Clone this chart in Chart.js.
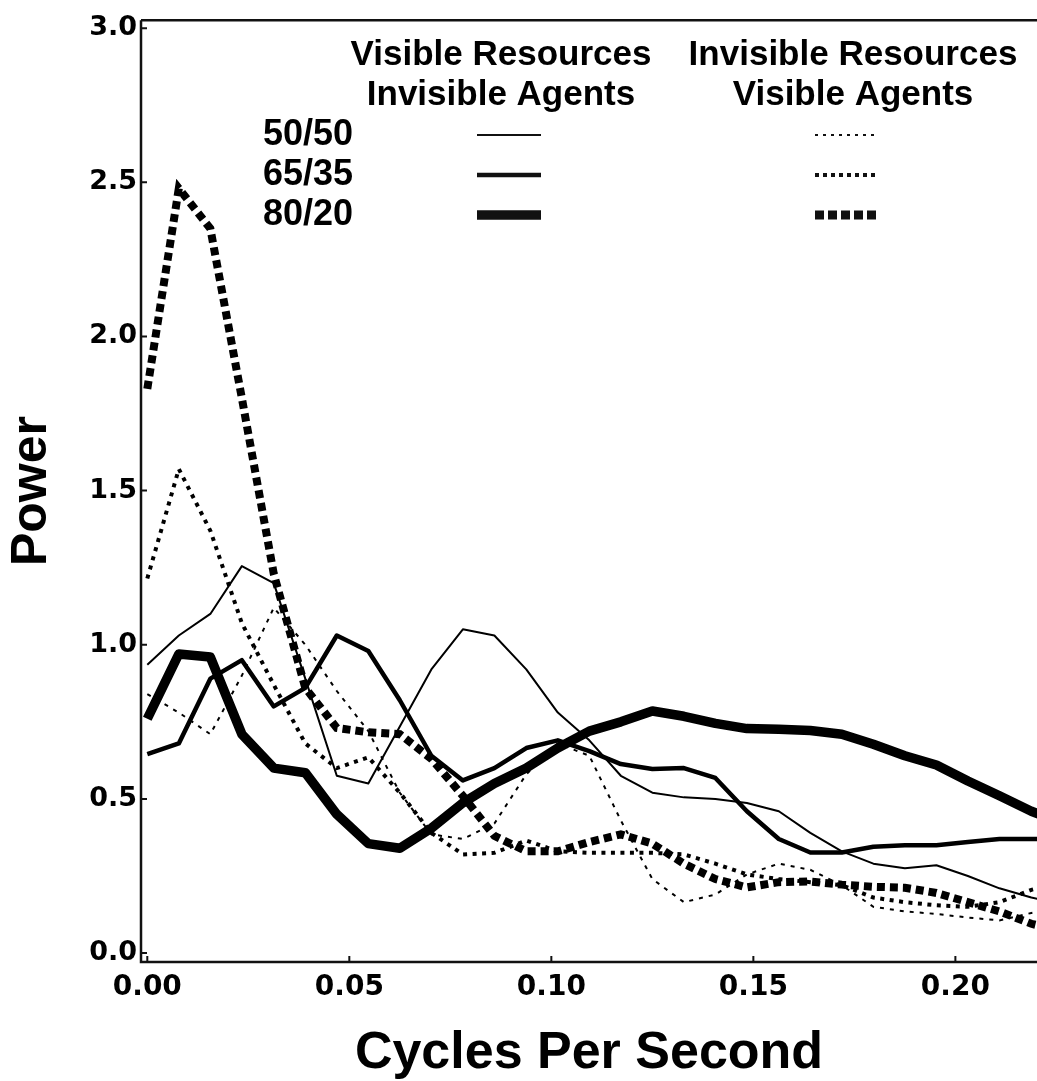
<!DOCTYPE html>
<html>
<head>
<meta charset="utf-8">
<script src="https://cdn.jsdelivr.net/npm/chart.js@4.4.1/dist/chart.umd.min.js"></script>
<style>
html,body{margin:0;padding:0;background:#fff;}
#wrap{width:1037px;height:1081px;position:relative;}
</style>
</head>
<body>
<div id="wrap"><canvas id="c" width="1037" height="1081"></canvas></div>
<script>
// Frequencies (cycles per second)
const freq = [0, 0.0078, 0.0156, 0.0234, 0.0313, 0.0391, 0.0469, 0.0547, 0.0625, 0.0703,
  0.0781, 0.0859, 0.0938, 0.1016, 0.1094, 0.1172, 0.125, 0.1328, 0.1406, 0.1484,
  0.1563, 0.1641, 0.1719, 0.1797, 0.1875, 0.1953, 0.2031, 0.2109, 0.2188, 0.2266];

// Visible Resources / Invisible Agents (solid lines)
const visRes5050 = [0.935,1.03,1.10,1.255,1.20,0.89,0.575,0.55,0.735,0.92,1.05,1.03,0.92,0.78,0.69,0.575,0.52,0.505,0.50,0.487,0.46,0.39,0.33,0.29,0.275,0.285,0.25,0.21,0.18,0.16];
const visRes6535 = [0.645,0.68,0.89,0.95,0.80,0.86,1.03,0.98,0.82,0.64,0.56,0.60,0.665,0.69,0.655,0.613,0.597,0.60,0.568,0.46,0.37,0.326,0.326,0.345,0.35,0.35,0.36,0.37,0.37,0.37];
const visRes8020 = [0.76,0.97,0.96,0.71,0.60,0.585,0.45,0.355,0.34,0.405,0.487,0.55,0.60,0.665,0.72,0.75,0.785,0.768,0.745,0.728,0.726,0.722,0.71,0.677,0.64,0.61,0.558,0.51,0.46,0.42];

// Invisible Resources / Visible Agents (dotted lines)
const invRes5050 = [0.84,0.78,0.71,0.90,1.12,1.00,0.85,0.72,0.52,0.385,0.37,0.42,0.58,0.68,0.64,0.43,0.24,0.165,0.19,0.255,0.29,0.27,0.22,0.15,0.135,0.127,0.115,0.106,0.13,0.15];
const invRes6535 = [1.215,1.57,1.37,1.07,0.87,0.68,0.60,0.635,0.52,0.39,0.32,0.325,0.365,0.33,0.325,0.325,0.325,0.32,0.29,0.255,0.24,0.23,0.22,0.18,0.165,0.155,0.15,0.165,0.205,0.23];
const invRes8020 = [1.83,2.48,2.35,1.80,1.23,0.86,0.73,0.716,0.71,0.63,0.51,0.38,0.33,0.33,0.36,0.385,0.355,0.29,0.24,0.213,0.23,0.232,0.222,0.215,0.212,0.195,0.165,0.135,0.095,0.07];

// Tick labels
const xTickValues = [0, 0.05, 0.10, 0.15, 0.20];
const yTickValues = [0, 0.5, 1.0, 1.5, 2.0, 2.5, 3.0];

// Legend text
const colHeaders = [["Visible Resources","Invisible Agents"],["Invisible Resources","Visible Agents"]];
const ratioLabels = ["50/50","65/35","80/20"];

function pts(arr){ return arr.map((v,i)=>({x:freq[i], y:v})); }

const styles = {
  thin:   {w:2,   dash:[]},
  medium: {w:4.5, dash:[]},
  thick:  {w:9.5, dash:[]},
  thinD:  {w:2,   dash:[4,6]},
  medD:   {w:4,   dash:[4,5.5]},
  thickD: {w:8,   dash:[8,5]}
};

function ds(label, arr, st){
  return {label, data:pts(arr), borderColor:'#000', backgroundColor:'#000',
    borderWidth:st.w, borderDash:st.dash, pointRadius:0, tension:0,
    borderJoinStyle: st.dash.length? 'miter':'round', borderCapStyle:'butt', fill:false};
}

const decor = {
  id:'decor',
  afterDraw(chart){
    const ctx = chart.ctx, a = chart.chartArea, xs = chart.scales.x, ys = chart.scales.y;
    ctx.save();
    ctx.strokeStyle = '#111';
    ctx.lineWidth = 2.5;
    ctx.setLineDash([]);
    ctx.beginPath();
    ctx.moveTo(a.left, a.top); ctx.lineTo(a.left, a.bottom); ctx.lineTo(chart.width, a.bottom);
    ctx.moveTo(a.left, a.top); ctx.lineTo(chart.width, a.top);
    ctx.stroke();
    ctx.lineWidth = 2;
    ctx.beginPath();
    yTickValues.forEach(v=>{ const py = ys.getPixelForValue(v); ctx.moveTo(a.left, py); ctx.lineTo(a.left+6, py); });
    xTickValues.forEach(v=>{ const px = xs.getPixelForValue(v); ctx.moveTo(px, a.bottom); ctx.lineTo(px, a.bottom-6); });
    ctx.stroke();

    // legend
    ctx.fillStyle = '#000';
    ctx.font = 'bold 35px "Liberation Sans", Arial, sans-serif';
    ctx.textBaseline = 'middle';
    ctx.textAlign = 'center';
    const colX = [501, 853];
    colHeaders.forEach((c,i)=>{ ctx.fillText(c[0], colX[i], 55); ctx.fillText(c[1], colX[i], 95); });
    ctx.textAlign = 'left';
    ctx.font = 'bold 36px "Liberation Sans", Arial, sans-serif';
    const rowY = [135, 175, 215];
    ratioLabels.forEach((t,i)=>ctx.fillText(t, 263, rowY[i]));
    const solid = [styles.thin, styles.medium, styles.thick];
    const dotted = [{w:2,dash:[3,5]},{w:4,dash:[4,4]},{w:9,dash:[9,4]}];
    rowY.forEach((yy,i)=>{
      ctx.setLineDash(solid[i].dash); ctx.lineWidth = solid[i].w;
      ctx.beginPath(); ctx.moveTo(477,yy); ctx.lineTo(541,yy); ctx.stroke();
      ctx.setLineDash(dotted[i].dash); ctx.lineWidth = dotted[i].w;
      ctx.beginPath(); ctx.moveTo(815,yy); ctx.lineTo(879,yy); ctx.stroke();
    });
    ctx.restore();
  }
};

new Chart(document.getElementById('c'), {
  type:'line',
  data:{ datasets:[
    ds('VR 50/50', visRes5050, styles.thin),
    ds('VR 65/35', visRes6535, styles.medium),
    ds('VR 80/20', visRes8020, styles.thick),
    ds('IR 50/50', invRes5050, styles.thinD),
    ds('IR 65/35', invRes6535, styles.medD),
    ds('IR 80/20', invRes8020, styles.thickD)
  ]},
  options:{
    responsive:false, animation:false, devicePixelRatio:1,
    layout:{padding:{top:15,right:0,left:0,bottom:0}},
    plugins:{legend:{display:false}, tooltip:{enabled:false}},
    scales:{
      x:{type:'linear', min:-0.00156, max:0.2202,
        afterBuildTicks:s=>{ s.ticks = xTickValues.map(v=>({value:v})); },
        afterFit:s=>{ s.height = 119; },
        grid:{display:false, drawTicks:false, tickLength:0}, border:{display:false},
        ticks:{callback:v=>Number(v).toFixed(2), color:'#000', padding:9, maxRotation:0, autoSkip:false,
          font:{family:'"DejaVu Sans"', weight:'bold', size:28}},
        title:{display:true, text:'Cycles Per Second', color:'#000', padding:{top:0,bottom:1},
          font:{family:'"Liberation Sans"', weight:'bold', size:52, lineHeight:1.0}}
      },
      y:{type:'linear', min:-0.029, max:3.0258,
        afterBuildTicks:s=>{ s.ticks = yTickValues.map(v=>({value:v})); },
        afterFit:s=>{ s.width = 141; },
        grid:{display:false, drawTicks:false, tickLength:0}, border:{display:false},
        ticks:{callback:v=>Number(v).toFixed(1), color:'#000', padding:4, autoSkip:false,
          font:{family:'"DejaVu Sans"', weight:'bold', size:27}},
        title:{display:true, text:'Power', color:'#000', padding:{top:2,bottom:0},
          font:{family:'"Liberation Sans"', weight:'bold', size:50}}
      }
    }
  },
  plugins:[decor]
});
</script>
</body>
</html>
